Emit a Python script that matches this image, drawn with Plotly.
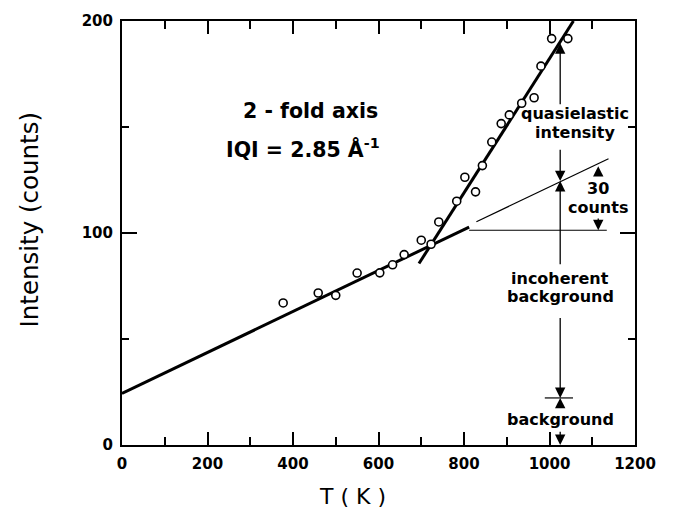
import plotly.graph_objects as go

# ---- data ----
T_data = [377, 459, 500, 550, 603, 633, 660, 700, 723, 741, 783, 802, 827, 843,
          865, 887, 906, 935, 964, 980, 1005, 1043]
I_data = [67.0, 71.7, 70.6, 81.1, 81.2, 85.0, 89.8, 96.6, 94.7, 105.2, 115.0, 126.3,
          119.4, 131.8, 142.9, 151.6, 155.7, 161.2, 163.8, 178.7, 191.7, 191.7]

low_fit_T = [0, 812]
low_fit_I = [24.3, 102.8]
steep_fit_T = [694.7, 1056]
steep_fit_I = [85.6, 200]
extrap_T = [829, 1138]
extrap_I = [105.3, 135.0]
level_T = [812, 1134]
level_I = [101.3, 101.3]
bg_tick_T = [989, 1055]
bg_tick_I = [22.2, 22.2]

x_ticks = [0, 200, 400, 600, 800, 1000, 1200]
y_ticks = [0, 100, 200]

T_mark = 1025          # vertical annotation line
I_steep = 189.5        # steep line at T_mark
I_incoh = 124.5        # extrapolated line at T_mark
I_bg = 22.2            # background level

FONT_B = "DejaVu Sans"

fig = go.Figure()

fig.add_trace(go.Scatter(x=low_fit_T, y=low_fit_I, mode="lines",
                         line=dict(color="black", width=3), hoverinfo="skip"))
fig.add_trace(go.Scatter(x=steep_fit_T, y=steep_fit_I, mode="lines",
                         line=dict(color="black", width=3), hoverinfo="skip"))
for xs, ys in [(extrap_T, extrap_I), (level_T, level_I), (bg_tick_T, bg_tick_I)]:
    fig.add_trace(go.Scatter(x=xs, y=ys, mode="lines",
                             line=dict(color="black", width=1.2), hoverinfo="skip"))
fig.add_trace(go.Scatter(x=T_data, y=I_data, mode="markers",
                         marker=dict(symbol="circle", size=8, color="white",
                                     line=dict(color="black", width=1.6))))

annotations = []

def arrow(x, y_tail, y_tip):
    annotations.append(dict(x=x, y=y_tip, ax=x, ay=y_tail, xref="x", yref="y",
                            axref="x", ayref="y", text="", showarrow=True,
                            arrowhead=2, arrowsize=1.6, arrowwidth=1.3,
                            arrowcolor="black", standoff=0, startstandoff=0))

arrow(T_mark, 160, I_steep)
arrow(T_mark, 140, I_incoh)
arrow(T_mark, 84.5, I_incoh)
arrow(T_mark, 60.6, I_bg)
arrow(T_mark, 17.0, I_bg)
arrow(T_mark, 7.0, 0)
arrow(1114, 126.8, 131.5)
arrow(1114, 107.5, 101.3)

def label(x, y, text, size=16, anchor="center"):
    annotations.append(dict(x=x, y=y, xref="x", yref="y", text=text, showarrow=False,
                            xanchor=anchor, yanchor="middle",
                            font=dict(family=FONT_B, size=size, color="black",
                                      weight="bold")))

label(1059.6, 156.2, "quasielastic")
label(1059.6, 147.3, "intensity")
label(1113.5, 121.0, "30")
label(1113.5, 112.1, "counts")
label(1024.6, 78.6, "incoherent")
label(1024.6, 70.0, "background")
label(1024.6, 12.0, "background")
label(440, 157.7, "2 - fold axis", size=20.5)
label(238, 139.7, "IQI = 2.85 Å<sup>-1</sup>", size=20.5, anchor="left")

# axis titles
annotations.append(dict(x=-0.1813, y=0.532, xref="paper", yref="paper",
                        text="Intensity (counts)", textangle=-90, showarrow=False,
                        xanchor="center", yanchor="middle",
                        font=dict(family=FONT_B, size=24.5, color="black")))
annotations.append(dict(x=0.449, y=-0.122, xref="paper", yref="paper",
                        text="T ( K )", showarrow=False,
                        xanchor="center", yanchor="middle",
                        font=dict(family=FONT_B, size=22, color="black")))

axis_common = dict(showgrid=False, zeroline=False, showline=True, linecolor="black",
                   linewidth=2, mirror="ticks", ticks="inside", tickcolor="black",
                   tickwidth=1.5,
                   tickfont=dict(family=FONT_B, size=15, color="black", weight="bold"))

fig.update_xaxes(range=[0, 1200], tickvals=x_ticks, ticklen=13,
                 minor=dict(dtick=100, ticks="inside", ticklen=8, tickcolor="black",
                            tickwidth=1.5),
                 ticklabelstandoff=4, **axis_common)
fig.update_yaxes(range=[0, 200], tickvals=y_ticks, ticklen=15,
                 minor=dict(dtick=50, ticks="inside", ticklen=7, tickcolor="black",
                            tickwidth=1.5),
                 ticklabelstandoff=4, **axis_common)

fig.update_layout(width=674, height=510, margin=dict(l=122, r=39, t=19, b=65),
                  plot_bgcolor="white", paper_bgcolor="white", showlegend=False,
                  annotations=annotations)

fig.write_html("out.html")
